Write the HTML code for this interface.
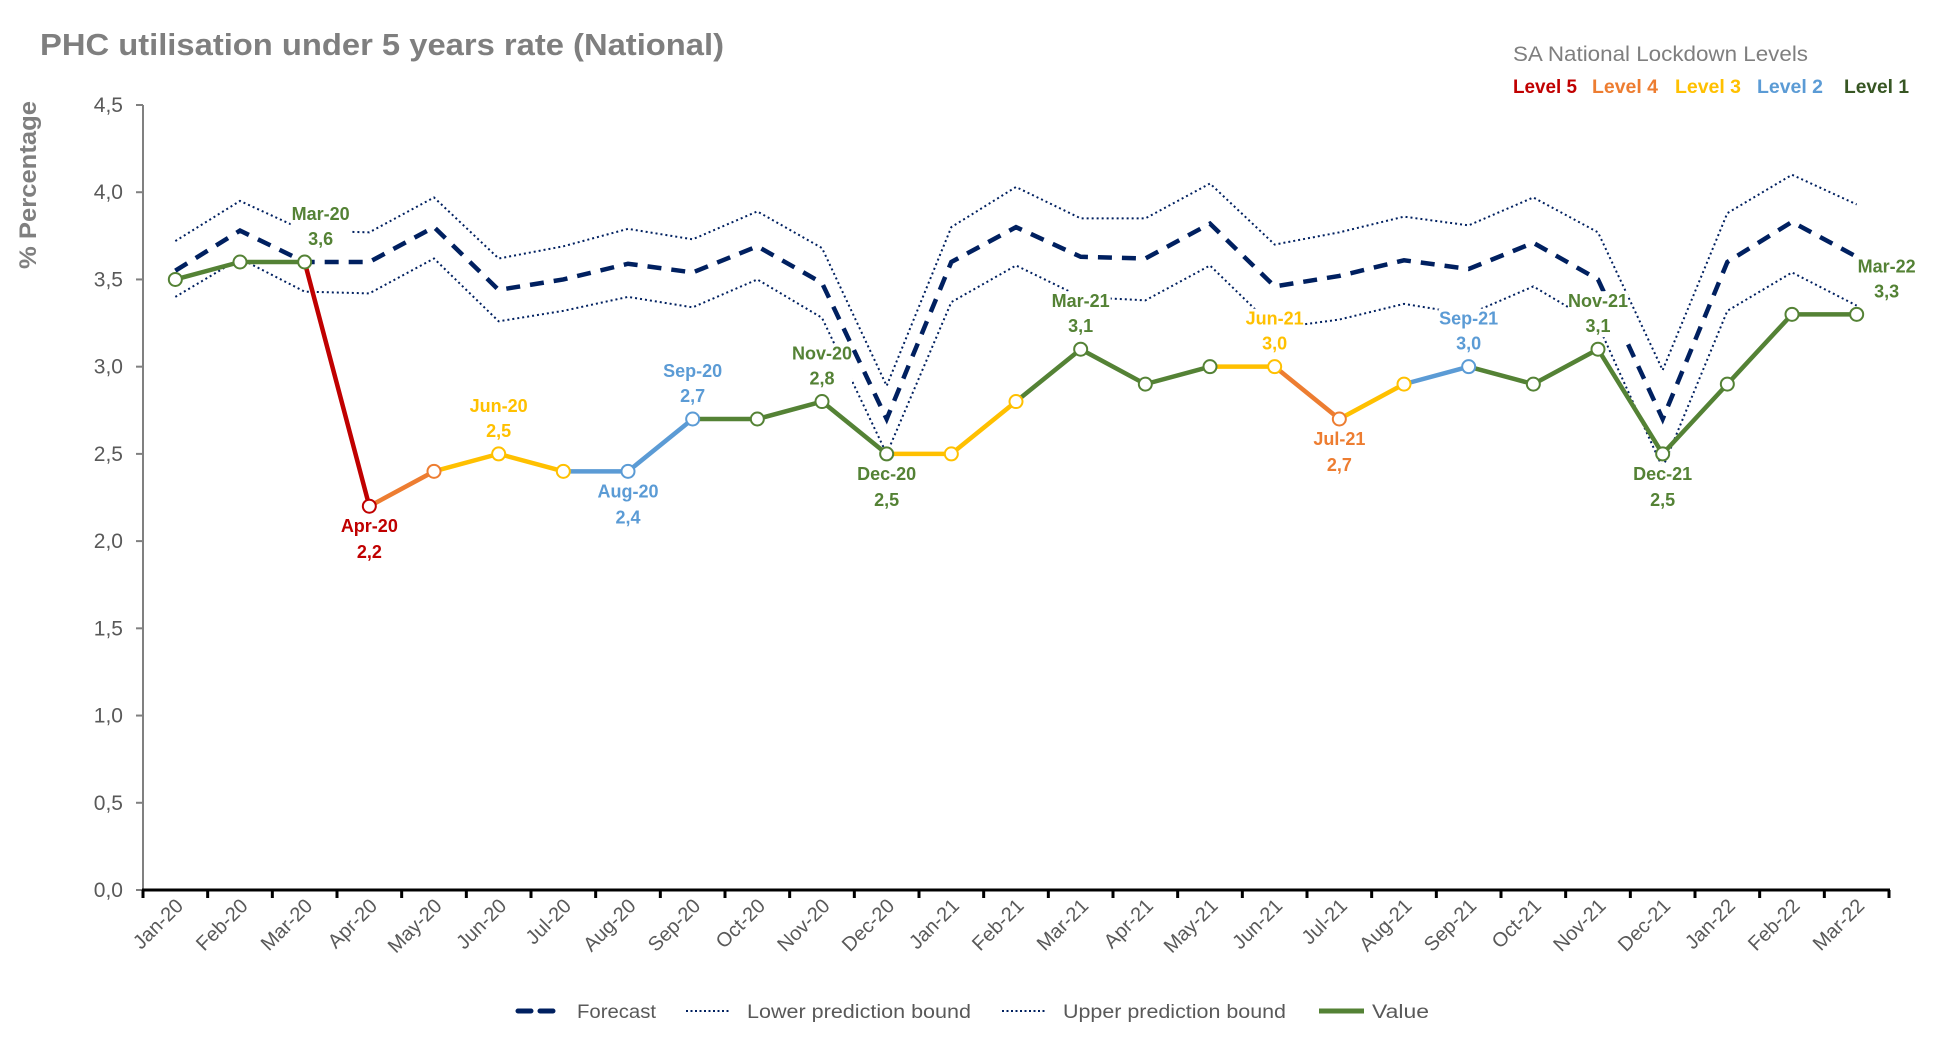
<!DOCTYPE html>
<html><head><meta charset="utf-8"><style>
body{margin:0;background:#fff}
svg{display:block;font-family:"Liberation Sans",sans-serif}
</style></head><body>
<svg id="chart" width="1954" height="1037" viewBox="0 0 1954 1037" xmlns="http://www.w3.org/2000/svg">
<text x="40" y="55" font-size="31" font-weight="bold" fill="#7f7f7f" textLength="684" lengthAdjust="spacingAndGlyphs">PHC utilisation under 5 years rate (National)</text>
<text x="1513" y="61" font-size="21" fill="#7f7f7f" textLength="295" lengthAdjust="spacingAndGlyphs">SA National Lockdown Levels</text>
<text x="1513" y="93" font-size="19" font-weight="bold" fill="#c00000" textLength="64" lengthAdjust="spacingAndGlyphs">Level 5</text>
<text x="1592" y="93" font-size="19" font-weight="bold" fill="#ed7d31" textLength="66" lengthAdjust="spacingAndGlyphs">Level 4</text>
<text x="1675" y="93" font-size="19" font-weight="bold" fill="#ffc000" textLength="66" lengthAdjust="spacingAndGlyphs">Level 3</text>
<text x="1757" y="93" font-size="19" font-weight="bold" fill="#5b9bd5" textLength="66" lengthAdjust="spacingAndGlyphs">Level 2</text>
<text x="1844" y="93" font-size="19" font-weight="bold" fill="#375623" textLength="65" lengthAdjust="spacingAndGlyphs">Level 1</text>
<text transform="translate(36,185) rotate(-90)" text-anchor="middle" font-size="24" font-weight="bold" fill="#7f7f7f" textLength="168" lengthAdjust="spacingAndGlyphs">% Percentage</text>
<g id="axes"></g><g id="series"></g><g id="labels"></g>
<g>
<line x1="518" y1="1011" x2="558" y2="1011" stroke="#002060" stroke-width="5" stroke-dasharray="13 9" stroke-linecap="round"/>
<text x="577" y="1018" font-size="19" fill="#595959" textLength="79" lengthAdjust="spacingAndGlyphs">Forecast</text>
<line x1="686" y1="1011" x2="730" y2="1011" stroke="#002060" stroke-width="2" stroke-dasharray="2 2.5"/>
<text x="747" y="1018" font-size="19" fill="#595959" textLength="224" lengthAdjust="spacingAndGlyphs">Lower prediction bound</text>
<line x1="1002" y1="1011" x2="1046" y2="1011" stroke="#002060" stroke-width="2" stroke-dasharray="2 2.5"/>
<text x="1063" y="1018" font-size="19" fill="#595959" textLength="223" lengthAdjust="spacingAndGlyphs">Upper prediction bound</text>
<line x1="1319" y1="1011" x2="1364" y2="1011" stroke="#548235" stroke-width="5"/>
<text x="1372" y="1018" font-size="19" fill="#595959" textLength="57" lengthAdjust="spacingAndGlyphs">Value</text>
</g>
</svg>
<script>
const categories=["Jan-20","Feb-20","Mar-20","Apr-20","May-20","Jun-20","Jul-20","Aug-20","Sep-20","Oct-20","Nov-20","Dec-20","Jan-21","Feb-21","Mar-21","Apr-21","May-21","Jun-21","Jul-21","Aug-21","Sep-21","Oct-21","Nov-21","Dec-21","Jan-22","Feb-22","Mar-22"];
const values=[3.5,3.6,3.6,2.2,2.4,2.5,2.4,2.4,2.7,2.7,2.8,2.5,2.5,2.8,3.1,2.9,3.0,3.0,2.7,2.9,3.0,2.9,3.1,2.5,2.9,3.3,3.3];
const levels=[1,1,1,5,4,3,3,2,2,1,1,1,3,3,1,1,1,3,4,3,2,1,1,1,1,1,1];
const forecast=[3.55,3.78,3.6,3.6,3.8,3.44,3.5,3.59,3.54,3.69,3.48,2.7,3.6,3.8,3.63,3.62,3.82,3.46,3.52,3.61,3.56,3.71,3.5,2.7,3.6,3.83,3.63];
const upper=[3.72,3.95,3.78,3.77,3.97,3.62,3.69,3.79,3.73,3.89,3.68,2.89,3.8,4.03,3.85,3.85,4.05,3.7,3.77,3.86,3.81,3.97,3.77,2.98,3.88,4.1,3.93];
const lower=[3.4,3.62,3.43,3.42,3.62,3.26,3.32,3.4,3.34,3.5,3.28,2.5,3.37,3.58,3.4,3.38,3.58,3.22,3.27,3.36,3.3,3.46,3.24,2.42,3.32,3.54,3.35];
const yTicks=["0,0","0,5","1,0","1,5","2,0","2,5","3,0","3,5","4,0","4,5"];
const labelIdx=[2,3,5,7,8,10,11,14,17,18,20,22,23,26];
const labelPos=["a","b","a","b","a","a","b","a","a","b","a","a","b","a"];
const levelColors={5:"#c00000",4:"#ed7d31",3:"#ffc000",2:"#5b9bd5",1:"#548235"};
const NS="http://www.w3.org/2000/svg";
const X0=143,X1=1889,Y0=890,YT=105;
const step=(X1-X0)/categories.length;
const xs=i=>X0+(i+0.5)*step;
const ys=v=>Y0-(v/4.5)*(Y0-YT);
function mk(tag,attrs,parent){const e=document.createElementNS(NS,tag);for(const k in attrs)e.setAttribute(k,attrs[k]);parent.appendChild(e);return e;}
const axes=document.getElementById('axes'),series=document.getElementById('series'),labels=document.getElementById('labels');
let e=mk('line',{x1:X0,y1:YT,x2:X0,y2:Y0,stroke:"#808080","stroke-width":2},axes);


yTicks.forEach((t,i)=>{const y=ys(i*0.5);
 const tk=mk('line',{x1:X0-7,y1:y,x2:X0,y2:y,stroke:"#808080","stroke-width":2},axes);
 
 
 const tx=mk('text',{x:123,y:y+7,"text-anchor":"end","font-size":21,fill:"#595959"},axes);tx.textContent=t;
 
 
});
e=mk('line',{x1:X0-1,y1:Y0,x2:X1+1,y2:Y0,stroke:"#000","stroke-width":3},axes);


for(let i=0;i<=categories.length;i++){const x=X0+i*step;
 const tk=mk('line',{x1:x,y1:Y0,x2:x,y2:Y0+8,stroke:"#000","stroke-width":3},axes);
 
 
}
categories.forEach((c,i)=>{const x=xs(i)+9,y=907;
 const tx=mk('text',{x:x,y:y,"text-anchor":"end","font-size":20,fill:"#595959",transform:`rotate(-45 ${x} ${y})`},axes);tx.textContent=c;
 
 
});
function pts(arr){return arr.map((v,i)=>xs(i)+","+ys(v)).join(" ");}
e=mk('polyline',{points:pts(upper),fill:"none",stroke:"#002060","stroke-width":2,"stroke-dasharray":"2 3"},series);


e=mk('polyline',{points:pts(lower),fill:"none",stroke:"#002060","stroke-width":2,"stroke-dasharray":"2 3"},series);


e=mk('polyline',{points:pts(forecast),fill:"none",stroke:"#002060","stroke-width":4.5,"stroke-dasharray":"14 10"},series);


const valueG=mk('g',{},series);
const labelBg=mk('g',{},series);
for(let i=1;i<values.length;i++){
 const s=mk('line',{x1:xs(i-1),y1:ys(values[i-1]),x2:xs(i),y2:ys(values[i]),stroke:levelColors[levels[i]],"stroke-width":4.5,"stroke-linecap":"round"},valueG);
 
 
}
values.forEach((v,i)=>{
 const m=mk('circle',{cx:xs(i),cy:ys(v),r:6.5,fill:"#fff",stroke:levelColors[levels[i]],"stroke-width":2},valueG);
 
 
});
labelIdx.forEach((i,k)=>{
 const above=labelPos[k]==="a";
 const col=levels[i]===1?"#548235":levelColors[levels[i]];
 const dx=(i===2?16:(i===26?30:0));
 const y1=ys(values[i])+(above?-42:26),y2=ys(values[i])+(above?-17:52);
 const bg=mk('rect',{x:xs(i)+dx-30,y:y1-16,width:60,height:y2-y1+21,fill:"#fff"},labelBg);
 
 
 const t1=mk('text',{x:xs(i)+dx,y:y1,"text-anchor":"middle","font-size":18,"font-weight":"bold",fill:col},labels);t1.textContent=categories[i];
 
 
 const t2=mk('text',{x:xs(i)+dx,y:y2,"text-anchor":"middle","font-size":18,"font-weight":"bold",fill:col},labels);t2.textContent=values[i].toFixed(1).replace('.',',');
 
 
});
// value line drawn over label backgrounds
series.appendChild(valueG);
</script>
</body></html>
